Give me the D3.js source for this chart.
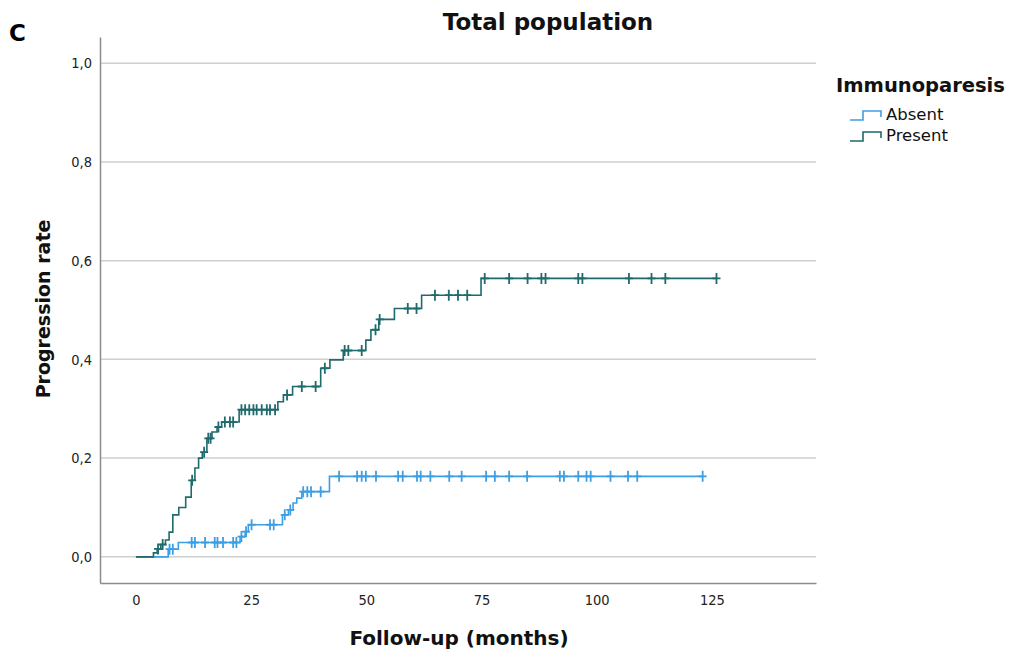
<!DOCTYPE html>
<html>
<head>
<meta charset="utf-8">
<script src="https://cdn.jsdelivr.net/npm/d3@7"></script>
<style>
  body { margin: 0; background: #fff; }
  svg { display: block; }
</style>
</head>
<body>
<svg id="chart" width="1013" height="657"></svg>
<script>
// data (months, cumulative progression rate)
var presentTimes = [3.8, 4.6, 5.4, 6.4, 7.2, 8.0, 9.3, 10.8, 12.0, 12.8, 13.6, 14.4, 15.4, 16.5, 17.6, 18.6, 22.4, 30.8, 32.0, 34.0, 40.1, 42.1, 45.0, 49.9, 51.0, 52.7, 56.1, 62.0, 74.9];
var presentRates = [0.008, 0.016, 0.025, 0.034, 0.05, 0.085, 0.10, 0.121, 0.155, 0.18, 0.20, 0.212, 0.24, 0.253, 0.263, 0.273, 0.298, 0.314, 0.328, 0.345, 0.382, 0.399, 0.418, 0.439, 0.46, 0.481, 0.503, 0.530, 0.564];
var presentCensored = [4.8, 5.8, 12.2, 14.8, 15.7, 16.2, 17.9, 19.3, 20.4, 21.1, 22.9, 23.7, 24.6, 25.5, 26.2, 27.3, 28.4, 29.1, 30.2, 32.8, 36.0, 39.0, 41.0, 45.3, 46.1, 49.0, 52.0, 52.9, 59.0, 60.9, 64.9, 67.9, 69.9, 71.9, 75.7, 81.0, 85.0, 88.0, 88.9, 96.0, 96.9, 107.0, 111.9, 114.9, 126.0];

var absentTimes = [7.0, 9.2, 22.6, 23.7, 24.4, 31.8, 33.1, 34.1, 34.9, 36.0, 42.0];
var absentRates = [0.0155, 0.029, 0.041, 0.051, 0.065, 0.085, 0.095, 0.109, 0.119, 0.132, 0.163];
var absentCensored = [7.3, 8.0, 12.1, 12.8, 15.0, 17.1, 17.7, 18.9, 21.1, 21.8, 22.9, 23.9, 25.1, 29.1, 29.9, 32.3, 33.5, 36.3, 37.2, 38.0, 40.1, 44.1, 48.0, 49.0, 49.9, 52.1, 56.9, 57.9, 61.0, 61.8, 63.9, 68.0, 70.7, 76.0, 77.9, 81.0, 84.9, 92.0, 92.9, 96.0, 97.8, 98.7, 103.0, 106.8, 108.8, 123.0];

var groups = ["Absent", "Present"];
var colors = ["#3d9fe3", "#1f6a6c"];
var xTicks = [0, 25, 50, 75, 100, 125];
var yTicks = [0, 0.2, 0.4, 0.6, 0.8, 1.0];

var svg = d3.select("#chart");

var x = d3.scaleLinear().domain([-7.8, 147.6]).range([100, 816]);
var y = d3.scaleLinear().domain([-0.053, 1.053]).range([583, 37]);

var fmt = function(d){ return d3.format(".1f")(d).replace(".", ","); };

// gridlines
svg.append("g")
    .selectAll("line")
    .data(yTicks)
    .join("line")
    .attr("x1", 100).attr("x2", 816)
    .attr("y1", d => y(d)).attr("y2", d => y(d))
    .style("stroke", "#cfcfcf")
    .style("stroke-width", "1.5px");

// axes
var yAxis = svg.append("g")
    .attr("transform", "translate(100,0)")
    .call(d3.axisLeft(y).tickValues(yTicks).tickFormat(fmt).tickSize(0).tickPadding(8));
var xAxis = svg.append("g")
    .attr("transform", "translate(0,583)")
    .call(d3.axisBottom(x).tickValues(xTicks).tickSize(0).tickPadding(12));

[xAxis, yAxis].forEach(function(a){
    a.select(".domain").style("stroke", "#8c8c8c").style("stroke-width", "1.5px");
    a.selectAll("text")
        .style("font-family", "'Liberation Sans Narrow', 'DejaVu Sans Condensed', sans-serif")
        .style("font-size", "14.5px")
        .style("fill", "#222");
});

// curves
function stepData(times, rates, end){
    var d = [[0, 0]];
    times.forEach((t, i) => d.push([t, rates[i]]));
    d.push([end, rates[rates.length - 1]]);
    return d;
}
function rateAt(times, rates, t){
    var r = 0;
    times.forEach((s, i) => { if (s <= t) r = rates[i]; });
    return r;
}

var series = [
    {times: absentTimes, rates: absentRates, cens: absentCensored},
    {times: presentTimes, rates: presentRates, cens: presentCensored}
];

var line = d3.line()
    .x(d => x(d[0]))
    .y(d => y(d[1]))
    .curve(d3.curveStepAfter);

series.forEach(function(s, i){
    var end = d3.max(s.cens);
    svg.append("path")
        .datum(stepData(s.times, s.rates, end))
        .attr("d", line)
        .style("fill", "none")
        .style("stroke", colors[i])
        .style("stroke-width", "1.6px");

    svg.append("g")
        .selectAll("path")
        .data(s.cens)
        .join("path")
        .attr("d", function(t){
            var cx = x(t), cy = y(rateAt(s.times, s.rates, t));
            return "M" + (cx - 4) + "," + cy + "H" + (cx + 4) + "M" + cx + "," + (cy - 5.5) + "V" + (cy + 5.5);
        })
        .style("fill", "none")
        .style("stroke", colors[i])
        .style("stroke-width", "1.8px");
});

// titles
svg.append("text")
    .attr("x", 548).attr("y", 30)
    .attr("text-anchor", "middle")
    .style("font-family", "'DejaVu Sans', sans-serif")
    .style("font-weight", "bold")
    .style("font-size", "23px")
    .style("fill", "#111")
    .text("Total population");

svg.append("text")
    .attr("x", 9).attr("y", 41)
    .style("font-family", "'DejaVu Sans', sans-serif")
    .style("font-weight", "bold")
    .style("font-size", "23px")
    .style("fill", "#000")
    .text("C");

svg.append("text")
    .attr("x", 459).attr("y", 645)
    .attr("text-anchor", "middle")
    .style("font-family", "'DejaVu Sans', sans-serif")
    .style("font-weight", "bold")
    .style("font-size", "20px")
    .style("fill", "#111")
    .text("Follow-up (months)");

svg.append("text")
    .attr("transform", "translate(50,309) rotate(-90)")
    .attr("text-anchor", "middle")
    .style("font-family", "'DejaVu Sans', sans-serif")
    .style("font-weight", "bold")
    .style("font-size", "19px")
    .style("fill", "#111")
    .text("Progression rate");

// legend
var legend = svg.append("g").attr("transform", "translate(836,92)");
legend.append("text")
    .attr("x", 0).attr("y", 0)
    .style("font-family", "'DejaVu Sans', sans-serif")
    .style("font-weight", "bold")
    .style("font-size", "19.5px")
    .style("fill", "#111")
    .text("Immunoparesis");

groups.forEach(function(g, i){
    var ly = 28 + i * 21;
    legend.append("path")
        .attr("d", "M14," + ly + "H27V" + (ly - 9) + "H45V" + (ly - 3))
        .style("fill", "none")
        .style("stroke", colors[i])
        .style("stroke-width", "1.6px");
    legend.append("text")
        .attr("x", 50).attr("y", ly)
        .style("font-family", "'DejaVu Sans', sans-serif")
        .style("font-size", "16.5px")
        .style("fill", "#111")
        .text(g);
});
</script>
</body>
</html>
